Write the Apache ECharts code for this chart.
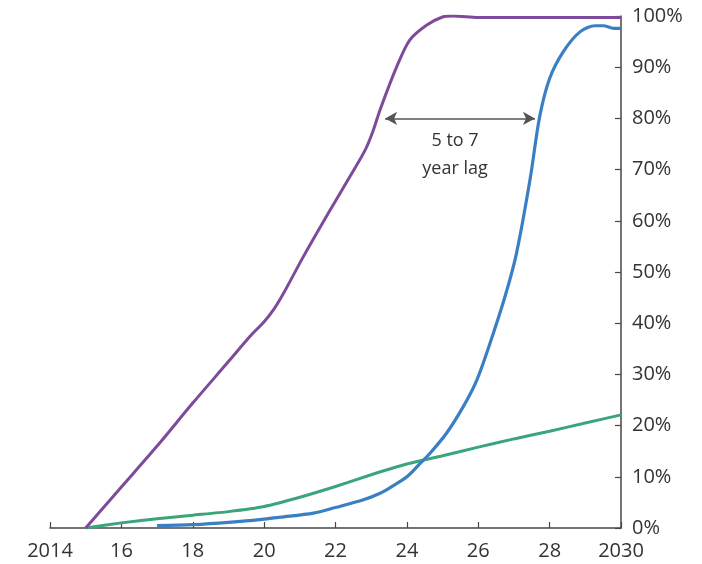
<!DOCTYPE html>
<html>
<head>
<meta charset="utf-8">
<script src="https://cdn.jsdelivr.net/npm/echarts@6/dist/echarts.min.js"></script>
<style>
html,body{margin:0;padding:0;background:#fff;}
#chart{width:702px;height:564px;}
</style>
</head>
<body>
<div id="chart"></div>
<script>
// Data (year, percent)
const purpleData = [[2015,0],[2016,8],[2017,16],[2018,24.4],[2019,32.5],[2019.6,37.4],[2020,40.3],[2020.26,42.6],[2020.54,45.8],[2021.1,53],[2021.85,62.1],[2022.4,68.6],[2022.83,73.8],[2023.05,77.5],[2023.24,81.5],[2023.71,90],[2024.08,95.3],[2024.55,98.2],[2025,99.8],[2025.3,100],[2026,99.7],[2030,99.7]];
const blueData = [[2017,0.45],[2018,0.65],[2019,1.1],[2020,1.75],[2020.44,2.1],[2021.38,2.9],[2022,4.0],[2022.78,5.5],[2023.25,6.8],[2023.53,7.9],[2024,10.0],[2024.37,12.6],[2024.65,14.6],[2025.11,18.5],[2025.58,23.7],[2025.96,28.9],[2026.33,36.1],[2026.75,45.2],[2027.07,53.6],[2027.45,68],[2027.72,80.3],[2028.0,87.8],[2028.38,93],[2028.85,96.9],[2029.27,98.1],[2029.5,98.1],[2029.8,97.6],[2030,97.6]];
const greenData = [[2015,0],[2016,1.0],[2017,1.8],[2018,2.5],[2019,3.2],[2020,4.2],[2021,6.0],[2022,8.1],[2023,10.4],[2024,12.5],[2025,14.1],[2026,15.8],[2027,17.4],[2028,18.9],[2029,20.5],[2030,22.1]];
const lagArrow = {from:[2023.39,80], to:[2027.59,80]};
const lagText = ['5 to 7','year lag'];
const lagTextPos = [2025.35,80];

const chart = echarts.init(document.getElementById('chart'));
const font = 'Open Sans';
const axisColor = '#4a4640';
chart.setOption({
  animation:false,
  grid:{left:50,right:81,top:16,bottom:36},
  xAxis:{
    type:'value', min:2014, max:2030, interval:2,
    axisLine:{show:true,lineStyle:{color:axisColor,width:1.5}},
    axisTick:{show:true,inside:true,length:6,lineStyle:{color:axisColor,width:1.2}},
    splitLine:{show:false},
    axisLabel:{margin:13,color:'#333',fontSize:20,fontFamily:font,
      formatter:function(v){return (v===2014||v===2030)?String(v):String(v%100);}}
  },
  yAxis:{
    type:'value', min:0, max:100, interval:10, position:'right',
    axisLine:{show:true,lineStyle:{color:axisColor,width:1.5}},
    axisTick:{show:true,inside:true,length:6,lineStyle:{color:axisColor,width:1.2}},
    splitLine:{show:false},
    axisLabel:{margin:11,color:'#333',fontSize:20,fontFamily:font,formatter:'{value}%'}
  },
  series:[
    {type:'line',data:greenData,showSymbol:false,smooth:0.2,lineStyle:{color:'#3aa57a',width:3},z:2},
    {type:'line',data:blueData,showSymbol:false,smooth:0.3,lineStyle:{color:'#3a7fc4',width:3.2},z:3},
    {type:'line',data:purpleData,showSymbol:false,smooth:0.3,lineStyle:{color:'#7e4a9a',width:3},z:4,
      markLine:{silent:true,symbol:['arrow','arrow'],symbolSize:[10,12],
        lineStyle:{color:'#555',width:1.5,type:'solid'},label:{show:false},
        data:[[{coord:lagArrow.from,itemStyle:{color:'#999'}},{coord:lagArrow.to,itemStyle:{color:'#999'}}]]}
    }
  ]
});
const p = chart.convertToPixel({gridIndex:0}, lagTextPos);
chart.setOption({graphic:[{type:'text',x:p[0],y:p[1]+8,
  style:{text:lagText.join('\n'),textAlign:'center',textVerticalAlign:'top',fill:'#333',fontSize:18,fontFamily:font,lineHeight:28}}]});
</script>
</body>
</html>
